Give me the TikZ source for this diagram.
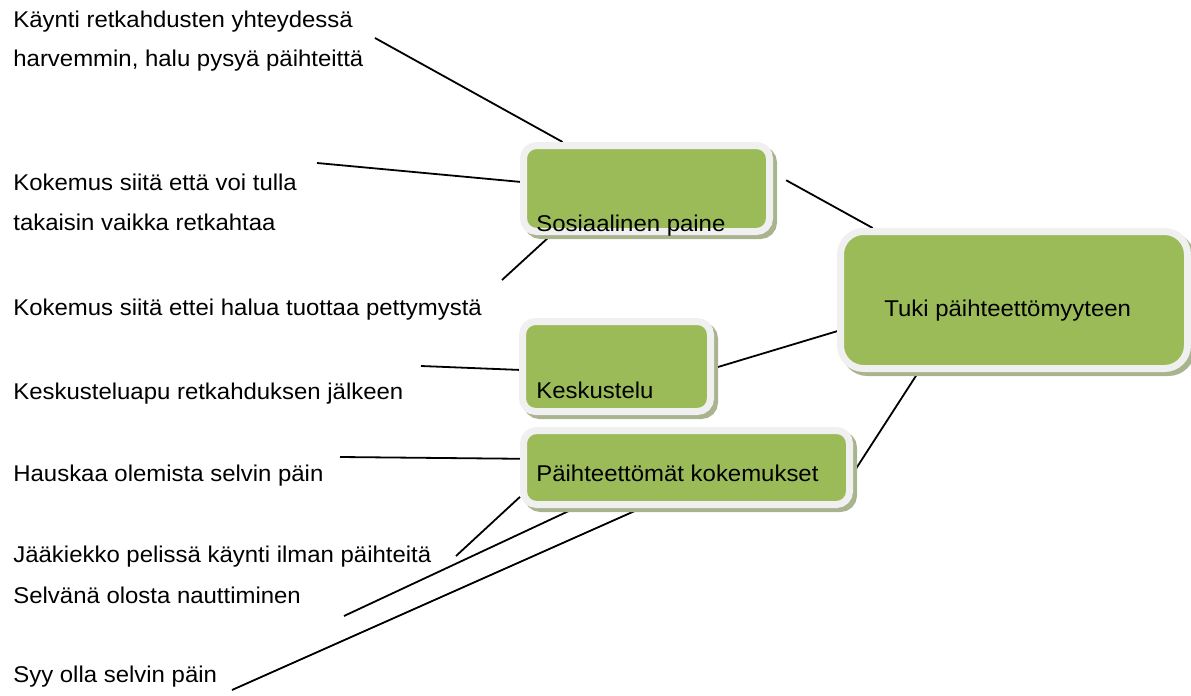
\documentclass[tikz,border=0pt]{standalone}
\usepackage{fontspec}
\setmainfont[FakeStretch=1.05]{Liberation Sans}
\usetikzlibrary{positioning, backgrounds}

\definecolor{boxgreen}{HTML}{9BBB59}
\definecolor{boxrim}{HTML}{F0F0F0}
\definecolor{boxshade}{HTML}{A9B48F}

\begin{document}
\begin{tikzpicture}[x=0.5pt, y=-0.5pt, font=\fontsize{11.4}{13.6}\selectfont,
  box/.style={draw=boxrim, fill=boxgreen, line width=3.5pt, rounded corners=6.5pt,
    inner sep=0pt,
    preaction={draw=boxshade, fill=boxshade, line width=3.5pt,
      transform canvas={shift={(2pt,-2pt)}}}},
  lbl/.style={anchor=base west, inner sep=0pt},
  link/.style={line width=0.9pt}]

\useasboundingbox (0,0) rectangle (1191,696);

% ---- Boxes ------------------------------------------------------------
\node[box, minimum width=123pt, minimum height=43pt] (soc) at (646.5,188.5) {};
\node[box, minimum width=173.5pt, minimum height=68.5pt, rounded corners=11.5pt]
      (tuki) at (1014,300) {};
\node[box, minimum width=94pt, minimum height=45pt] (kesk) at (616.5,366.5) {};
\node[box, minimum width=163pt, minimum height=37pt] (paih) at (686.5,467.5) {};

\node[lbl] (tSoc)  at (536,231) {Sosiaalinen paine};
\node[lbl] (tTuki) at (884,316) {Tuki päihteettömyyteen};
\node[lbl] (tKesk) at (536,398) {Keskustelu};
\node[lbl] (tPaih) at (536,481) {Päihteettömät kokemukset};

% ---- Texts on the left --------------------------------------------------
\node[lbl] (k1)  at (13,27)  {Käynti retkahdusten yhteydessä};
\node[lbl] (k2)  at (13,66)  {harvemmin, halu pysyä päihteittä};
\node[lbl] (k3)  at (13,190) {Kokemus siitä että voi tulla};
\node[lbl] (k4)  at (13,230) {takaisin vaikka retkahtaa};
\node[lbl] (k5)  at (13,315) {Kokemus siitä ettei halua tuottaa pettymystä};
\node[lbl] (k6)  at (13,399) {Keskusteluapu retkahduksen jälkeen};
\node[lbl] (k7)  at (13,481) {Hauskaa olemista selvin päin};
\node[lbl] (k8)  at (13,562) {Jääkiekko pelissä käynti ilman päihteitä};
\node[lbl] (k9)  at (13,603) {Selvänä olosta nauttiminen};
\node[lbl] (k10) at (13,682) {Syy olla selvin päin};

% free ends of the connectors
\coordinate (e1)  at (375,38);
\coordinate (e2)  at (317,163);
\coordinate (e3)  at (502,280);
\coordinate (e6)  at (421,366);
\coordinate (e7)  at (340,457);
\coordinate (e8)  at (456,556);
\coordinate (e9)  at (344,616);
\coordinate (e10) at (232,690);

% ---- Connectors ---------------------------------------------------------
\begin{scope}[on background layer]
\draw[link] (e1) -- (soc.151);
\draw[link] (e2) -- (soc.177);
\draw[link] (e3) -- (soc.206);
\draw[link, shorten <=7.5pt] (soc.7) -- (tuki.153.5);
\draw[link] (kesk.-1) -- (tuki.190);
\draw[link] (paih.-2) -- (tuki.217);
\draw[link] (e6) -- (kesk.182);
\draw[link] (e7) -- (paih.177);
\draw[link] (e8) -- (paih.190);
\draw[link] (e9) -- (paih.200.5);
\draw[link] (e10) -- (paih.222);
\end{scope}

\end{tikzpicture}
\end{document}
